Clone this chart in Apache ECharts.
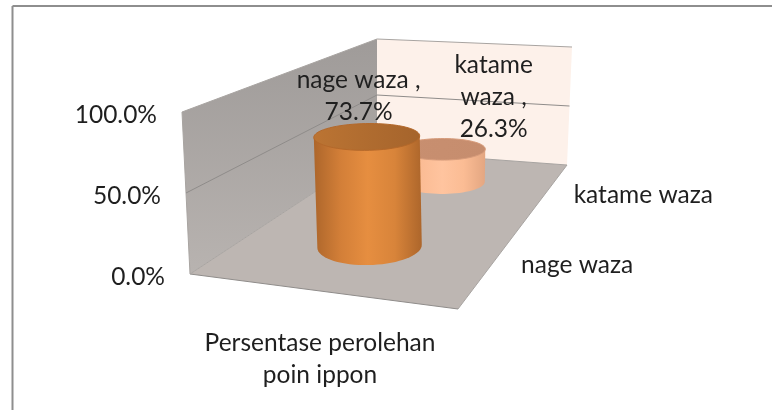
<!DOCTYPE html>
<html>
<head>
<meta charset="utf-8">
<style>
  html, body { margin: 0; padding: 0; background: #fff; }
  #chart { width: 772px; height: 410px; }
</style>
<script src="https://cdn.jsdelivr.net/npm/echarts@6/dist/echarts.min.js"></script>
</head>
<body>
<div id="chart"></div>
<script>
// data
var categories = ['nage waza', 'katame waza'];
var seriesValues = [73.7, 26.3];
var dataLabels = ['nage waza ,\n73.7%', 'katame\nwaza ,\n26.3%'];
var yTicks = [0, 50, 100];
var tickLabels = ['0.0%', '50.0%', '100.0%'];
var axisTitle = 'Persentase perolehan\npoin ippon';

var FONT = 'Lato, "Open Sans", sans-serif';
var TEXT_COLOR = '#1f1f1f';

// the plot box as it lands on screen: [floor, top] of each corner
var FL = [[190, 274], [182, 112]];
var FR = [[458, 309], [452, 139]];
var BL = [[377, 151], [377, 39]];
var BR = [[567, 165], [572, 47]];
var DEPTH_W = 1.545; // back edge is further away than the front edge

var GRID = { left: 190, top: 112, width: 268, height: 162 };
var BAR_U = 0.484, BAR_RU = 0.2, BAR_RT = 0.11;

var darkSide = ['#ad662b', '#d37f38', '#e68e40', '#d8843a', '#ad662b'];
var lightSide = ['#e6aa86', '#fbbc94', '#ffc49f', '#fbbc94', '#e3a681'];
var barStyles = [
  { side: darkSide, top: ['#bb7433', '#a5642c'], stroke: '#b4682a' },
  { side: lightSide, top: ['#c88f70', '#c68d6e'], stroke: '#d79c7b' }
];

function mix(a, b, k) {
  return [a[0] + (b[0] - a[0]) * k, a[1] + (b[1] - a[1]) * k];
}

// u along the x axis, t into the depth, h up the value axis (all 0..1)
function project(u, t, h) {
  var f = mix(mix(FL[0], FL[1], h), mix(FR[0], FR[1], h), u);
  var b = mix(mix(BL[0], BL[1], h), mix(BR[0], BR[1], h), u);
  var k = t * DEPTH_W / (1 - t + t * DEPTH_W);
  return mix(f, b, k);
}

function poly(points, fill, z2) {
  return { type: 'polygon', z2: z2 || 0, shape: { points: points }, style: { fill: fill } };
}

function line(a, b, color, width, z2) {
  return {
    type: 'line', z2: z2 || 1,
    shape: { x1: a[0], y1: a[1], x2: b[0], y2: b[1] },
    style: { stroke: color, lineWidth: width || 1, fill: null }
  };
}

function label(text, x, y, align, z2) {
  return {
    type: 'text', z2: z2 || 8, x: x, y: y,
    style: {
      text: text, fill: TEXT_COLOR, font: '24.5px ' + FONT,
      lineHeight: 32, align: align, verticalAlign: 'middle'
    }
  };
}

function renderBox(params, api) {
  var edge = '#8f8c8a', els = [];
  var leftFill = new echarts.graphic.LinearGradient(0, 0, 0, 1, [
    { offset: 0, color: '#9f9b99' }, { offset: 1, color: '#b8b3b0' }
  ]);
  els.push(poly([project(0, 0, 0), project(0, 1, 0), project(0, 1, 1), project(0, 0, 1)], leftFill));
  els.push(poly([project(0, 1, 0), project(1, 1, 0), project(1, 1, 1), project(0, 1, 1)], '#fdf1ea'));
  els.push(poly([project(0, 0, 0), project(1, 0, 0), project(1, 1, 0), project(0, 1, 0)], '#bdb6b2'));

  els.push(line(project(0, 0, 0), project(1, 0, 0), edge));
  els.push(line(project(1, 0, 0), project(1, 1, 0), '#a8a4a1'));
  els.push(line(project(0, 0, 0), project(0, 0, 1), '#a8a4a1'));
  els.push(line(project(0, 0, 1), project(0, 1, 1), '#a8a4a1'));
  els.push(line(project(0, 1, 1), project(1, 1, 1), '#a8a4a1'));
  els.push(line(project(0, 0, 0), project(0, 1, 0), '#a8a4a1'));
  els.push(line(project(0, 1, 0), project(1, 1, 0), '#a8a4a1'));

  yTicks.forEach(function (v, i) {
    var h = (GRID.top + GRID.height - api.coord([0, v])[1]) / GRID.height;
    if (i > 0 && i < yTicks.length - 1) {
      els.push(line(project(0, 0, h), project(0, 1, h), edge));
      els.push(line(project(0, 1, h), project(1, 1, h), edge));
    }
    var p = project(0, 0, h);
    els.push(label(tickLabels[i], p[0] - 25, p[1] + 3, 'right'));
  });

  categories.forEach(function (name, i) {
    var t = (api.coord([i, 0])[0] - GRID.left) / GRID.width;
    var p = project(1, t, 0);
    els.push(label(name, p[0] + 26, p[1] + 5, 'left'));
  });

  var mid = project(0.5, 0, 0);
  els.push(label(axisTitle, mid[0] - 4, mid[1] + 68, 'center'));
  return { type: 'group', children: els };
}

function ellipse(t, h) {
  var pts = [];
  for (var i = 0; i < 72; i++) {
    var a = i / 72 * Math.PI * 2;
    pts.push(project(BAR_U + BAR_RU * Math.cos(a), t + BAR_RT * Math.sin(a), h));
  }
  return pts;
}

function renderBar(params, api) {
  var idx = api.value(0);
  var c = api.coord([idx, api.value(1)]);
  var t = (c[0] - GRID.left) / GRID.width;
  var h = (GRID.top + GRID.height - c[1]) / GRID.height;
  var st = barStyles[idx];
  var lo = ellipse(t, 0), hi = ellipse(t, h);

  var xs = function (pts) {
    var a = pts[0], b = pts[0];
    pts.forEach(function (p) {
      if (p[0] < a[0]) a = p;
      if (p[0] > b[0]) b = p;
    });
    return [a, b];
  };
  var loEnds = xs(lo), hiEnds = xs(hi);
  // lower arc of the base, right to left
  var arc = lo.filter(function (p) {
    var y = loEnds[0][1] + (loEnds[1][1] - loEnds[0][1]) * (p[0] - loEnds[0][0]) / (loEnds[1][0] - loEnds[0][0]);
    return p[1] >= y;
  }).sort(function (a, b) { return b[0] - a[0]; });

  var side = [hiEnds[0], loEnds[0]].concat(arc.slice().reverse()).concat([loEnds[1], hiEnds[1]]);
  var sideFill = new echarts.graphic.LinearGradient(0, 0, 1, 0, st.side.map(function (col, i) {
    return { offset: i / (st.side.length - 1), color: col };
  }));
  var topFill = new echarts.graphic.LinearGradient(0, 0, 1, 0, [
    { offset: 0, color: st.top[0] }, { offset: 1, color: st.top[1] }
  ]);

  var centre = project(BAR_U, t, h);
  var off = idx === 0 ? [-9, -40] : [51, -52];
  // the near bar sits above the far one
  var base = idx === 0 ? 4 : 2;
  return {
    type: 'group',
    children: [
      poly(side, sideFill, base),
      { type: 'polygon', z2: base + 1, shape: { points: hi }, style: { fill: topFill, stroke: st.stroke, lineWidth: 1 } },
      label(dataLabels[idx], centre[0] + off[0], centre[1] + off[1], 'center')
    ]
  };
}

var chart = echarts.init(document.getElementById('chart'));
chart.setOption({
  animation: false,
  grid: GRID,
  xAxis: { type: 'category', data: categories, show: false },
  yAxis: { type: 'value', min: 0, max: 100, interval: 50, show: false },
  graphic: [
    { type: 'line', shape: { x1: 12.5, y1: 6, x2: 772, y2: 6 }, style: { stroke: '#8e8e8e', lineWidth: 2 } },
    { type: 'line', shape: { x1: 12.5, y1: 6, x2: 12.5, y2: 410 }, style: { stroke: '#8e8e8e', lineWidth: 2 } }
  ],
  series: [
    { type: 'custom', name: 'box', z: 1, silent: true, clip: false, data: [[0, 0]], renderItem: renderBox },
    {
      type: 'custom', name: 'bars', z: 2, clip: false,
      // far bar first so the near one covers it
      data: [[1, seriesValues[1]], [0, seriesValues[0]]],
      encode: { x: 0, y: 1 },
      renderItem: renderBar
    }
  ]
});
</script>
</body>
</html>
